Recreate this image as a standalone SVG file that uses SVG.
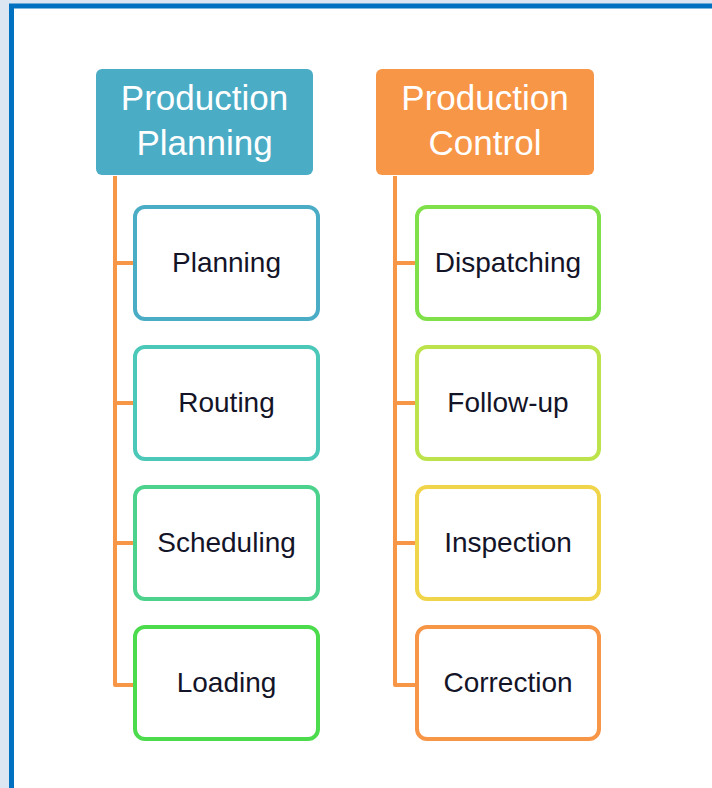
<svg xmlns="http://www.w3.org/2000/svg" width="712" height="788" viewBox="0 0 712 788">
<style>
.hdr{stroke:none}
.hdrt{font-family:"Liberation Sans",Arial,sans-serif;font-size:35px;fill:#ffffff;text-anchor:middle}
.box{fill:#ffffff;stroke-width:4}
.bt{font-family:"Liberation Sans",Arial,sans-serif;font-size:28px;fill:#141428;text-anchor:middle}
.conn{fill:none;stroke:#f79646;stroke-width:4;stroke-linejoin:round}
</style>
<rect x="0" y="0" width="712" height="788" fill="#dce6f2"/>
<rect x="11.5" y="6" width="710" height="790" fill="#ffffff" stroke="#0070c0" stroke-width="5"/>
<g id="connectors">
<path class="conn" d="M115 176 V685 H134 M115 263 H134 M115 403 H134 M115 543 H134"/>
<path class="conn" d="M395 176 V685 H416 M395 263 H416 M395 403 H416 M395 543 H416"/>
</g>
<g id="production-planning">
<rect class="hdr" x="96" y="69" width="217" height="106" rx="6" fill="#4bacc6"/>
<text class="hdrt" x="204.5" y="110">Production</text>
<text class="hdrt" x="204.5" y="155">Planning</text>
</g>
<g id="production-control">
<rect class="hdr" x="376" y="69" width="218" height="106" rx="6" fill="#f79646"/>
<text class="hdrt" x="485" y="110">Production</text>
<text class="hdrt" x="485" y="155">Control</text>
</g>
<g id="planning">
<rect class="box" x="135" y="207" width="183" height="112" rx="10" stroke="#4bacc6"/>
<text class="bt" x="226.5" y="272">Planning</text>
</g>
<g id="routing">
<rect class="box" x="135" y="347" width="183" height="112" rx="10" stroke="#4bc8b8"/>
<text class="bt" x="226.5" y="412">Routing</text>
</g>
<g id="scheduling">
<rect class="box" x="135" y="487" width="183" height="112" rx="10" stroke="#4cd28c"/>
<text class="bt" x="226.5" y="552">Scheduling</text>
</g>
<g id="loading">
<rect class="box" x="135" y="627" width="183" height="112" rx="10" stroke="#4cdb4c"/>
<text class="bt" x="226.5" y="692">Loading</text>
</g>
<g id="dispatching">
<rect class="box" x="417" y="207" width="182" height="112" rx="10" stroke="#7fe04a"/>
<text class="bt" x="508" y="272">Dispatching</text>
</g>
<g id="follow-up">
<rect class="box" x="417" y="347" width="182" height="112" rx="10" stroke="#bde34c"/>
<text class="bt" x="508" y="412">Follow-up</text>
</g>
<g id="inspection">
<rect class="box" x="417" y="487" width="182" height="112" rx="10" stroke="#f0d44a"/>
<text class="bt" x="508" y="552">Inspection</text>
</g>
<g id="correction">
<rect class="box" x="417" y="627" width="182" height="112" rx="10" stroke="#f79646"/>
<text class="bt" x="508" y="692">Correction</text>
</g>
</svg>
